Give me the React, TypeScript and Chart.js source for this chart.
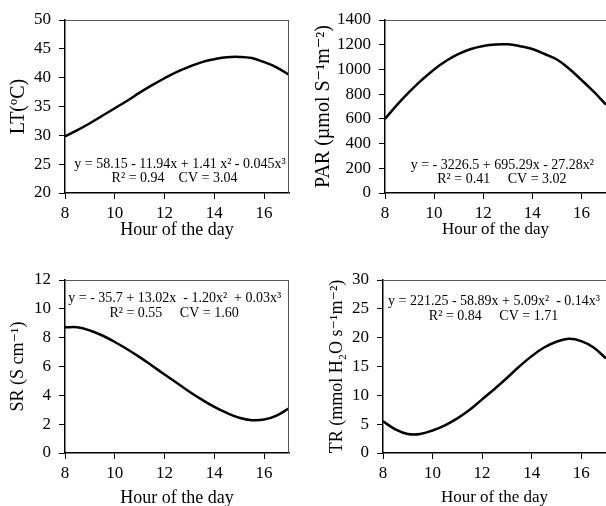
import React, { useEffect, useRef } from "react";
import { Chart, registerables } from "chart.js";

Chart.register(...registerables);

const hours = [8, 8.5, 9, 9.5, 10, 10.5, 11, 11.5, 12, 12.5, 13, 13.5, 14, 14.5, 15, 15.5, 16, 16.5, 17];
const ltValues = [29.8, 30.9, 32.1, 33.4, 34.7, 36.0, 37.4, 38.7, 39.9, 41.0, 41.9, 42.7, 43.2, 43.55, 43.6, 43.4, 42.7, 41.8, 40.5];
const parValues = [600, 715, 820, 915, 1000, 1070, 1125, 1165, 1190, 1202, 1203, 1188, 1165, 1125, 1080, 1005, 915, 820, 715];
const srValues = [8.72, 8.72, 8.5, 8.15, 7.7, 7.2, 6.65, 6.05, 5.45, 4.85, 4.25, 3.7, 3.2, 2.78, 2.45, 2.28, 2.32, 2.6, 3.1];
const trValues = [5.5, 4.1, 3.3, 3.3, 3.9, 4.8, 6.0, 7.5, 9.3, 11.1, 13.0, 15.0, 16.8, 18.3, 19.3, 19.8, 19.4, 18.3, 16.4];

const xTicks = [8, 10, 12, 14, 16];
const ltTicks = [20, 25, 30, 35, 40, 45, 50];
const parTicks = [0, 200, 400, 600, 800, 1000, 1200, 1400];
const srTicks = [0, 2, 4, 6, 8, 10, 12];
const trTicks = [0, 5, 10, 15, 20, 25, 30];

const xTitle = "Hour of the day";

const ltEq = ["y = 58.15 - 11.94x + 1.41 x² - 0.045x³", "R² = 0.94    CV = 3.04"];
const parEq = ["y = - 3226.5 + 695.29x - 27.28x²", "R² = 0.41     CV = 3.02"];
const srEq = ["y = - 35.7 + 13.02x  - 1.20x²  + 0.03x³", "R² = 0.55     CV = 1.60"];
const trEq = ["y = 221.25 - 58.89x + 5.09x²  - 0.14x³", "R² = 0.84     CV = 1.71"];

const SERIF = "'Liberation Serif', 'Times New Roman', 'DejaVu Serif', serif";

type PanelCfg = {
  left: number;
  top: number;
  w: number;
  h: number;
  pad: { left: number; top: number; right: number; bottom: number };
  yWidth: number;
  xHeight: number;
  values: number[];
  yTicks: number[];
  yTitle: string;
  yTitleSize: number;
  yTitlePad: number;
  xTitleSize: number;
  xTitlePad: number;
  eq: string[];
  eqPos: { x: number; y: number }[];
  rightBorder: boolean;
};

const panels: PanelCfg[] = [
  {
    left: 0, top: 0, w: 303, h: 253,
    pad: { left: 0, top: 20, right: 14, bottom: 0 },
    yWidth: 65, xHeight: 60,
    values: ltValues, yTicks: ltTicks,
    yTitle: "LT(ºC)", yTitleSize: 20, yTitlePad: 7,
    xTitleSize: 18, xTitlePad: 12,
    eq: ltEq, eqPos: [{ x: 12.62, y: 25.0 }, { x: 12.4, y: 22.6 }],
    rightBorder: true,
  },
  {
    left: 303, top: 0, w: 303, h: 253,
    pad: { left: 0, top: 20, right: 0, bottom: 0 },
    yWidth: 82, xHeight: 60,
    values: parValues, yTicks: parTicks,
    yTitle: "PAR (µmol S⁻¹m⁻²)", yTitleSize: 20, yTitlePad: 9,
    xTitleSize: 17, xTitlePad: 13,
    eq: parEq, eqPos: [{ x: 12.78, y: 226 }, { x: 12.76, y: 113 }],
    rightBorder: false,
  },
  {
    left: 0, top: 253, w: 303, h: 253,
    pad: { left: 0, top: 27, right: 14, bottom: 0 },
    yWidth: 65, xHeight: 53,
    values: srValues, yTicks: srTicks,
    yTitle: "SR (S cm⁻¹)", yTitleSize: 18, yTitlePad: 7,
    xTitleSize: 18, xTitlePad: -3,
    eq: srEq, eqPos: [{ x: 12.41, y: 10.73 }, { x: 12.38, y: 9.69 }],
    rightBorder: true,
  },
  {
    left: 303, top: 253, w: 303, h: 253,
    pad: { left: 0, top: 27, right: 0, bottom: 0 },
    yWidth: 80, xHeight: 53,
    values: trValues, yTicks: trTicks,
    yTitle: "TR (mmol H₂O s⁻¹m⁻²)", yTitleSize: 18, yTitlePad: 23,
    xTitleSize: 17, xTitlePad: -2,
    eq: trEq, eqPos: [{ x: 12.48, y: 26.24 }, { x: 12.46, y: 23.63 }],
    rightBorder: false,
  },
];

const framePlugin = {
  id: "frame",
  afterDraw(chart: any) {
    const opts = chart.options.plugins.frame || {};
    const { ctx, chartArea } = chart;
    const { left, right, top, bottom } = chartArea;
    ctx.save();
    ctx.strokeStyle = "#555";
    ctx.lineWidth = 1;
    ctx.beginPath();
    ctx.moveTo(left, top + 0.5);
    ctx.lineTo(right, top + 0.5);
    if (opts.rightBorder) {
      ctx.moveTo(right - 0.5, top);
      ctx.lineTo(right - 0.5, bottom);
    }
    ctx.stroke();
    ctx.restore();
  },
};

const eqPlugin = {
  id: "eq",
  afterDatasetsDraw(chart: any) {
    const opts = chart.options.plugins.eq;
    if (!opts) return;
    const { ctx } = chart;
    const xs = chart.scales.x;
    const ys = chart.scales.y;
    ctx.save();
    ctx.fillStyle = "#000";
    ctx.font = `${opts.size}px ${SERIF}`;
    ctx.textAlign = "center";
    ctx.textBaseline = "middle";
    opts.lines.forEach((t: string, i: number) => {
      const p = opts.pos[i];
      ctx.fillText(t, xs.getPixelForValue(p.x), ys.getPixelForValue(p.y));
    });
    ctx.restore();
  },
};

function Panel({ cfg }: { cfg: PanelCfg }) {
  const ref = useRef<HTMLCanvasElement>(null);
  useEffect(() => {
    if (!ref.current) return;
    const chart = new Chart(ref.current, {
      type: "line",
      data: {
        datasets: [
          {
            data: hours.map((h, i) => ({ x: h, y: cfg.values[i] })),
            borderColor: "#000",
            borderWidth: 2.5,
            pointRadius: 0,
            tension: 0.4,
            fill: false,
          },
        ],
      },
      options: {
        animation: false,
        responsive: false,
        devicePixelRatio: 1,
        layout: { padding: cfg.pad },
        plugins: {
          legend: { display: false },
          tooltip: { enabled: false },
          frame: { rightBorder: cfg.rightBorder },
          eq: { lines: cfg.eq, pos: cfg.eqPos, size: 14 },
        } as any,
        scales: {
          x: {
            type: "linear",
            min: 8,
            max: 17,
            afterBuildTicks: (s: any) => {
              s.ticks = xTicks.map((v) => ({ value: v }));
            },
            afterFit: (s: any) => {
              s.height = cfg.xHeight;
            },
            grid: { display: true, drawOnChartArea: false, drawTicks: true, tickLength: 6, color: "#000", lineWidth: 1 },
            border: { display: true, color: "#000", width: 1.5 },
            ticks: {
              color: "#000",
              padding: 4,
              maxRotation: 0,
              font: { family: SERIF, size: 17 },
              callback: (v: any) => String(v),
            },
            title: {
              display: true,
              text: xTitle,
              color: "#000",
              font: { family: SERIF, size: cfg.xTitleSize },
              padding: { top: 0, bottom: cfg.xTitlePad },
            },
          },
          y: {
            type: "linear",
            min: cfg.yTicks[0],
            max: cfg.yTicks[cfg.yTicks.length - 1],
            afterBuildTicks: (s: any) => {
              s.ticks = cfg.yTicks.map((v) => ({ value: v }));
            },
            afterFit: (s: any) => {
              s.width = cfg.yWidth;
            },
            grid: { display: true, drawOnChartArea: false, drawTicks: true, tickLength: 6, color: "#000", lineWidth: 1 },
            border: { display: true, color: "#000", width: 1.5 },
            ticks: {
              color: "#000",
              padding: 8,
              font: { family: SERIF, size: 17 },
              callback: (v: any) => String(v),
            },
            title: {
              display: true,
              text: cfg.yTitle,
              color: "#000",
              font: { family: SERIF, size: cfg.yTitleSize },
              padding: { top: cfg.yTitlePad, bottom: 0 },
            },
          },
        },
      },
      plugins: [framePlugin, eqPlugin],
    } as any);
    return () => chart.destroy();
  }, [cfg]);
  return (
    <canvas
      ref={ref}
      width={cfg.w}
      height={cfg.h}
      style={{ position: "absolute", left: cfg.left, top: cfg.top, width: cfg.w, height: cfg.h }}
    />
  );
}

export default function App() {
  return (
    <div style={{ position: "fixed", left: 0, top: 0, width: 606, height: 506, background: "#fff", overflow: "hidden" }}>
      {panels.map((p, i) => (
        <Panel key={i} cfg={p} />
      ))}
    </div>
  );
}
